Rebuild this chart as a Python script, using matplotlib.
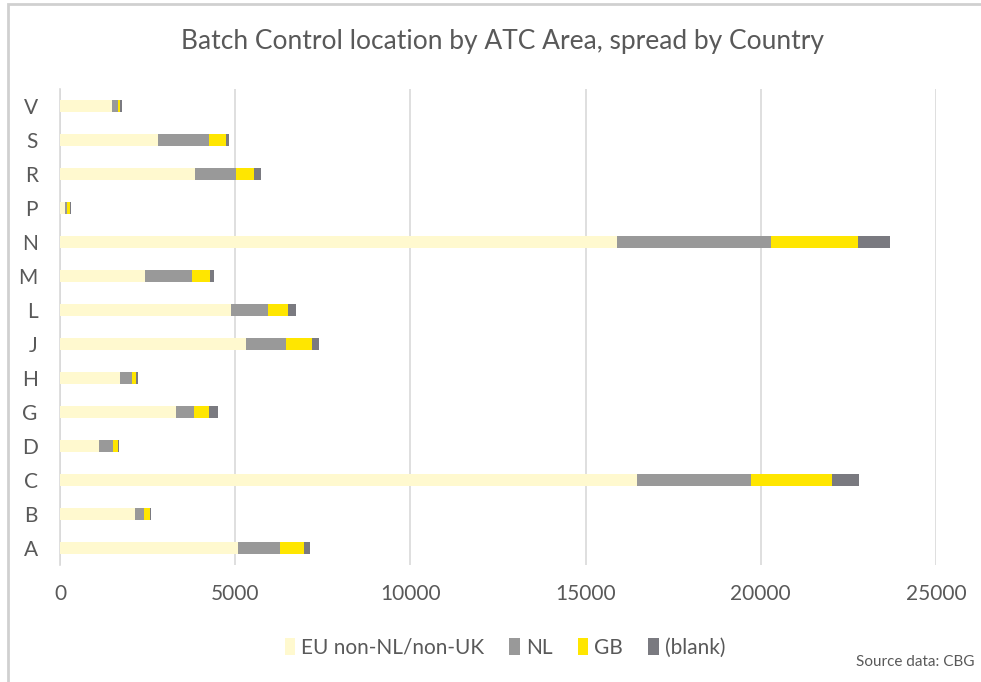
import numpy as np
import matplotlib
matplotlib.use("Agg")
import matplotlib.pyplot as plt
from matplotlib.patches import Rectangle

plt.rcParams['font.family'] = ['Lato', 'DejaVu Sans']

# ATC areas, bottom to top
areas = ['A', 'B', 'C', 'D', 'G', 'H', 'J', 'L', 'M', 'N', 'P', 'R', 'S', 'V']
eu_other = [5080, 2135, 16460, 1125, 3300, 1725, 5300, 4880, 2430, 15890, 130, 3840, 2790, 1480]
nl = [1200, 265, 3250, 380, 510, 325, 1160, 1050, 1340, 4390, 80, 1190, 1460, 180]
gb = [685, 155, 2320, 140, 440, 115, 740, 590, 505, 2490, 65, 505, 490, 60]
blank = [180, 55, 770, 40, 250, 65, 180, 210, 120, 930, 50, 210, 80, 40]

series = [
    ('EU non-NL/non-UK', eu_other, '#FFF9CF'),
    ('NL', nl, '#999999'),
    ('GB', gb, '#FFE600'),
    ('(blank)', blank, '#7A7A80'),
]

fig = plt.figure(figsize=(9.81, 6.82), dpi=100)
ax = fig.add_axes([60 / 981, 1 - 565 / 682, (936 - 60) / 981, (565 - 89) / 682])

y = np.arange(len(areas))
left = np.zeros(len(areas))
for name, vals, col in series:
    vals = np.array(vals, dtype=float)
    ax.barh(y, vals, left=left, height=0.38, color=col, label=name, zorder=3)
    left += vals

ax.set_xlim(0, 25000)
ax.set_ylim(-0.5, len(areas) - 0.5)
ax.set_xticks(np.arange(0, 25001, 5000))
ax.set_yticks(y)
ax.set_yticklabels(areas)
ax.grid(axis='x', color='#D9D9D9', linewidth=1.2, zorder=0)
for s in ['top', 'right', 'bottom']:
    ax.spines[s].set_visible(False)
ax.spines['left'].set_color('#D9D9D9')
ax.spines['left'].set_linewidth(1.2)
ax.tick_params(axis='both', length=0, labelsize=15, colors='#595959')
ax.tick_params(axis='x', pad=14)
ax.tick_params(axis='y', pad=16)

fig.text(0.512, 1 - 42 / 682, 'Batch Control location by ATC Area, spread by Country',
         ha='center', va='center', fontsize=19, color='#595959')

ax.legend(loc='center', bbox_to_anchor=(505 / 981, 1 - 648 / 682), bbox_transform=fig.transFigure,
          ncol=4, frameon=False, fontsize=15, labelcolor='#595959',
          handlelength=0.5, handleheight=0.9, handletextpad=0.3, columnspacing=1.2)

fig.text(975 / 981, 1 - 662 / 682, 'Source data: CBG', ha='right', va='center',
         fontsize=11, color='#595959')

# outer frame
fig.patches.append(Rectangle((8 / 981, -0.01), 1.0, 1 - 4 / 682 + 0.01, transform=fig.transFigure,
                             fill=False, edgecolor='#D0D0D0', linewidth=2))

fig.savefig('out.png', dpi=100)
